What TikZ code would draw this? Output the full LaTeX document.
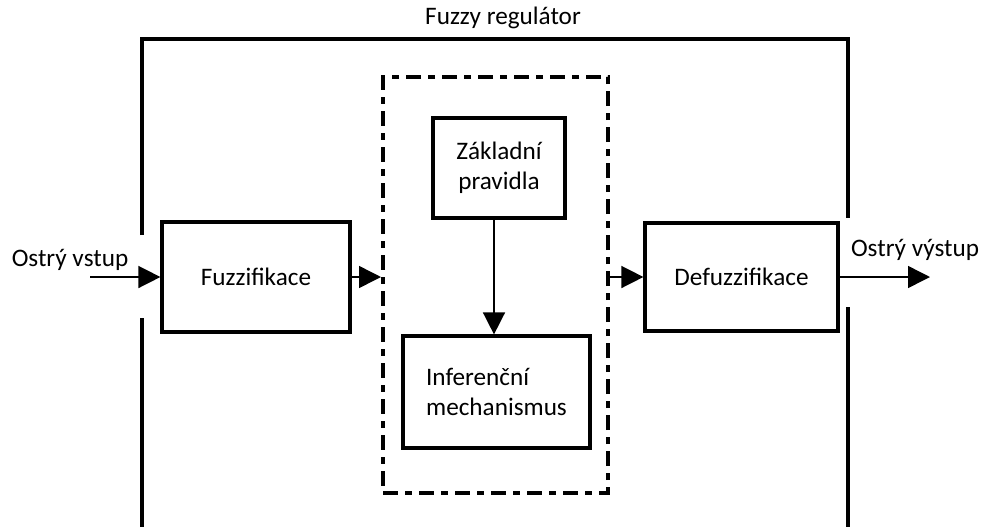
\documentclass[tikz,border=0pt]{standalone}
\usepackage{fontspec}
\setmainfont{Carlito}
\usetikzlibrary{arrows.meta}

\begin{document}
\begin{tikzpicture}[
  x=0.5pt, y=-0.5pt,
  font=\fontsize{12.6}{15}\selectfont,
  box/.style={draw, line width=1.6pt, align=center, inner sep=2pt},
  dashbox/.style={draw, line width=2pt, dash pattern=on 7.5pt off 3.5pt on 3.5pt off 3.5pt},
  frame/.style={line width=1.75pt},
  arr/.style={-{Triangle[length=11pt, width=11pt]}, line width=0.75pt}
]
\useasboundingbox (0,0) rectangle (987,526);

% outer regulator frame
\node (title) at (503,18) {Fuzzy regulátor};
\draw[frame] (142,235) -- (142,39) -- (848,39) -- (848,218);
\draw[frame] (142,318) -- (142,530);
\draw[frame] (848,307) -- (848,530);

% blocks
\node[dashbox, minimum width=112.5pt, minimum height=208pt] (infer) at (495.5,285) {};
\node[box, minimum width=94pt, minimum height=55pt] (fuz) at (256,277) {Fuzzifikace};
\node[box, minimum width=66pt, minimum height=50pt] (rules) at (499,168) {Základní\\pravidla};
\node[box, minimum width=93.5pt, minimum height=56pt, align=left] (mech) at (496.5,392) {Inferenční\\mechanismus};
\node[box, minimum width=96.5pt, minimum height=54pt] (defuz) at (741.5,277) {Defuzzifikace};

% input / output
\coordinate (in) at (90,277);
\coordinate (out) at (930,277);
\node (inlabel) at (70,260) {Ostrý vstup};
\node (outlabel) at (915,250) {Ostrý výstup};

\draw[arr] (in) -- (fuz.west);
\draw[arr] (fuz.east) -- (infer.west |- fuz.east);
\draw[arr] ([xshift=-2.5pt]rules.south) -- ([xshift=-2.5pt]rules.south |- mech.north);
\draw[arr] (infer.east |- defuz.west) -- (defuz.west);
\draw[arr] (defuz.east) -- (out);
\end{tikzpicture}
\end{document}
